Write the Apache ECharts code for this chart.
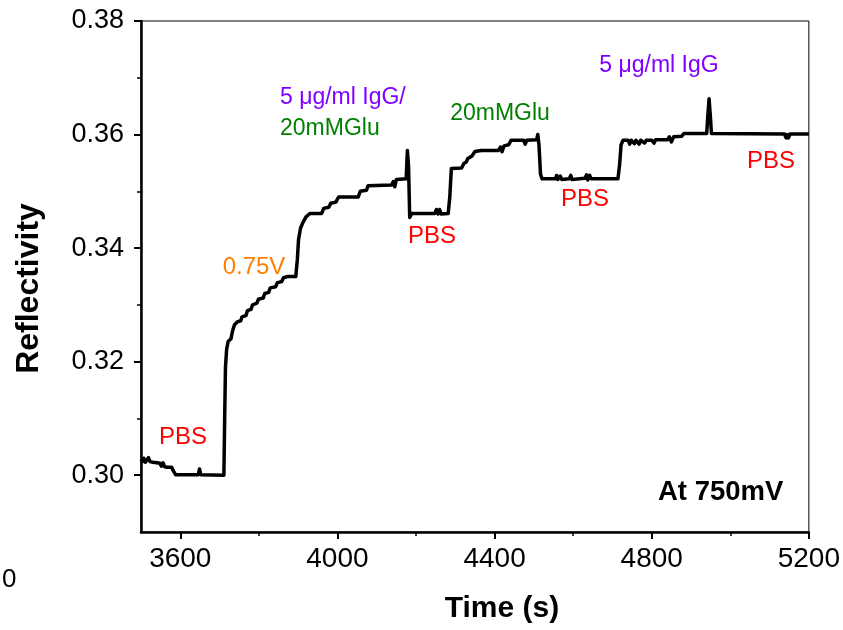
<!DOCTYPE html>
<html>
<head>
<meta charset="utf-8">
<script src="https://cdn.jsdelivr.net/npm/echarts@6/dist/echarts.min.js"></script>
<style>
html,body{margin:0;padding:0;background:#fff;}
#chart{width:843px;height:630px;}
</style>
</head>
<body>
<div id="chart"></div>
<script>
// Time (s)
const times = [3500,3504,3507,3511,3515,3519,3523,3530,3540,3548,3552,3556,3560,3566,3578,3582,3588,3646,3649,3652,3711,
3713,3715,3718,3722,3729,3733,3738,3745,3754,3757,3767,3771,3780,3784,3795,3799,3811,3815,3825,3829,3843,3847,3858,3863,3873,3894,
3898,3901,3906,3912,3920,3930,3960,3965,3978,3983,3996,4003,4053,4058,4074,4078,4138,4142,4146,4150,4175,4178,4181,4184,4189,
4248,4252,4256,4260,4264,4282,4286,4290,4316,4322,4328,4332,4337,4342,4350,4366,4410,4415,4419,4424,4436,4442,4474,4478,4482,
4507,4510,4513,4517,4521,4555,4558,4561,4567,4571,4590,4594,4597,4602,4630,4634,4637,4642,4646,4714,4718,4722,4727,4740,4744,
4748,4756,4760,4768,4772,4782,4786,4800,4806,4810,4840,4845,4850,4856,4876,4882,4940,4943,4946,4949,4952,5138,5142,5145,5148,5152,5200];
// Reflectivity
const reflectivity = [.3028,.3024,.3030,.3023,.3027,.3031,.3024,.3023,.3022,.3021,.3016,.3022,.3015,.3014,.3014,.3008,.3001,.3001,.3011,.3001,.3000,
.3100,.3190,.3222,.3236,.3240,.3254,.3265,.3270,.3272,.3279,.3281,.3290,.3292,.3300,.3303,.3310,.3312,.3320,.3322,.3330,.3332,.3339,.3341,.3348,.3350,.3350,
.3380,.3415,.3435,.3445,.3455,.3461,.3461,.3470,.3472,.3479,.3481,.3490,.3490,.3500,.3502,.3510,.3511,.3517,.3508,.3521,.3522,.3572,.3545,.3454,.3461,
.3461,.3468,.3460,.3468,.3460,.3461,.3490,.3540,.3541,.3549,.3552,.3558,.3555,.3562,.3570,.3572,.3572,.3578,.3570,.3580,.3582,.3590,.3590,.3583,.3590,
.3591,.3600,.3582,.3530,.3522,.3522,.3528,.3521,.3527,.3521,.3522,.3528,.3521,.3523,.3523,.3529,.3520,.3528,.3522,.3522,.3545,.3582,.3590,.3590,.3583,
.3590,.3584,.3590,.3583,.3590,.3585,.3590,.3590,.3585,.3591,.3591,.3596,.3587,.3596,.3597,.3602,.3602,.3635,.3663,.3635,.3602,.3601,.3594,.3600,.3594,.3601,.3601];

const xMajorTicks = [3600,4000,4400,4800,5200];
const xMinorTicks = [3800,4200,4600,5000];
const yMajorTicks = [0.30,0.32,0.34,0.36,0.38];
const yMinorTicks = [0.31,0.33,0.35,0.37];

const annotations = [
  {text:'PBS', color:'#ff0000', x:183, y:437, align:'center'},
  {text:'0.75V', color:'#ff8000', x:254, y:267, align:'center'},
  {text:'5 μg/ml IgG/', color:'#8000ff', x:280, y:98, align:'left'},
  {text:'20mMGlu', color:'#008000', x:280, y:129, align:'left'},
  {text:'PBS', color:'#ff0000', x:432, y:236, align:'center'},
  {text:'20mMGlu', color:'#008000', x:500, y:114, align:'center'},
  {text:'PBS', color:'#ff0000', x:585, y:199, align:'center'},
  {text:'5 μg/ml IgG', color:'#8000ff', x:659, y:66, align:'center'},
  {text:'PBS', color:'#ff0000', x:771, y:161, align:'center'}
];

const FONT = '"Liberation Sans", Arial, sans-serif';
const chart = echarts.init(document.getElementById('chart'), null, {renderer:'canvas'});

const graphics = annotations.map(a => ({
  type:'text', x:a.x, y:a.y, z:100,
  style:{text:a.text, fill:a.color, font:(a.text==='PBS'||a.text==='0.75V'?'24px ':'23px ')+FONT, textAlign:a.align, textVerticalAlign:'middle'}
}));
graphics.push({type:'text', x:658, y:492, z:100,
  style:{text:'At 750mV', fill:'#000', font:'bold 27.5px '+FONT, textAlign:'left', textVerticalAlign:'middle'}});
graphics.push({type:'text', x:2, y:580, z:100,
  style:{text:'0', fill:'#000', font:'26px '+FONT, textAlign:'left', textVerticalAlign:'middle'}});

const option = {
  animation:false,
  backgroundColor:'#fff',
  grid:{left:141, right:34, top:21, bottom:98, show:true, borderColor:'#000', borderWidth:1},
  xAxis:[{
    type:'value', min:3500, max:5200, position:'bottom',
    name:'Time (s)', nameLocation:'middle', nameGap:62,
    nameTextStyle:{fontFamily:FONT, fontWeight:'bold', fontSize:30, color:'#000', padding:[0,0,0,54]},
    axisLine:{show:true, onZero:false, lineStyle:{color:'#000', width:2.5}},
    axisTick:{show:true, inside:false, length:7, lineStyle:{color:'#000', width:2}, customValues:xMajorTicks},
    axisLabel:{show:true, margin:13, fontFamily:FONT, fontSize:28, color:'#000', customValues:xMajorTicks,
      formatter:v => String(v)},
    splitLine:{show:false}
  },{
    type:'value', min:3500, max:5200, position:'bottom', gridIndex:0,
    axisLine:{show:false, onZero:false},
    axisTick:{show:true, inside:false, length:4, lineStyle:{color:'#000', width:1.5}, customValues:xMinorTicks},
    axisLabel:{show:false},
    splitLine:{show:false}
  }],
  yAxis:[{
    type:'value', min:0.29, max:0.38, position:'left',
    name:'Reflectivity', nameLocation:'middle', nameGap:96, nameRotate:90,
    nameTextStyle:{fontFamily:FONT, fontWeight:'bold', fontSize:32, color:'#000', padding:[0,24,0,0]},
    axisLine:{show:true, onZero:false, lineStyle:{color:'#000', width:2.5}},
    axisTick:{show:true, inside:false, length:7, lineStyle:{color:'#000', width:2}, customValues:yMajorTicks},
    axisLabel:{show:true, margin:17, fontFamily:FONT, fontSize:27, color:'#000', customValues:yMajorTicks,
      formatter:v => v.toFixed(2)},
    splitLine:{show:false}
  },{
    type:'value', min:0.29, max:0.38, position:'left',
    axisLine:{show:false, onZero:false},
    axisTick:{show:true, inside:false, length:4, lineStyle:{color:'#000', width:1.5}, customValues:yMinorTicks},
    axisLabel:{show:false},
    splitLine:{show:false}
  }],
  series:[{
    type:'line', xAxisIndex:0, yAxisIndex:0,
    data: times.map((t,i)=>[t, reflectivity[i]]),
    showSymbol:false, symbol:'none', smooth:false,
    lineStyle:{color:'#000', width:3.5, join:'round'},
    z:10
  }],
  graphic: graphics
};
chart.setOption(option);
</script>
</body>
</html>
